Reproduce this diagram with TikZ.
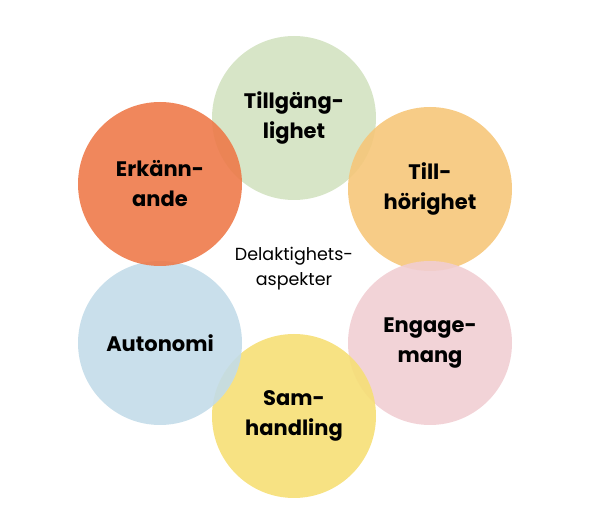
\documentclass[tikz,border=0pt]{standalone}
\usepackage{fontspec}
\setmainfont{Poppins}
\usetikzlibrary{positioning}
\definecolor{tillgang}{HTML}{D3E2C1}
\definecolor{tillhor}{HTML}{F6C77A}
\definecolor{engage}{HTML}{F1CED3}
\definecolor{samhand}{HTML}{F6DF76}
\definecolor{autonom}{HTML}{C3DCE9}
\definecolor{erkann}{HTML}{EE7A4A}

\begin{document}
\begin{tikzpicture}[x=1pt, y=-1pt,
    aspect/.style={circle, minimum size=164pt, inner sep=0pt, fill opacity=0.9,
                   text opacity=1, align=center, font=\fontsize{21}{30}\selectfont\bfseries},
    centre/.style={align=center, font=\fontsize{17.5}{25}\selectfont}
  ]
    \useasboundingbox (0,0) rectangle (595,526);
    \node[aspect, fill=tillgang] (tg) at (294,118) {Tillgäng-\\lighet};
    \node[aspect, fill=tillhor] (th) at (430,189) {Till-\\hörighet};
    \node[aspect, fill=engage] (en) at (430,343) {Engage-\\mang};
    \node[aspect, fill=samhand] (sh) at (294,416) {Sam-\\handling};
    \node[aspect, fill=autonom] (au) at (160,343) {Autonomi};
    \node[aspect, fill=erkann] (ek) at (160,184) {Erkänn-\\ande};
    \node[centre] (mid) at (294,269) {Delaktighets-\\aspekter};
  \end{tikzpicture}
\end{document}
